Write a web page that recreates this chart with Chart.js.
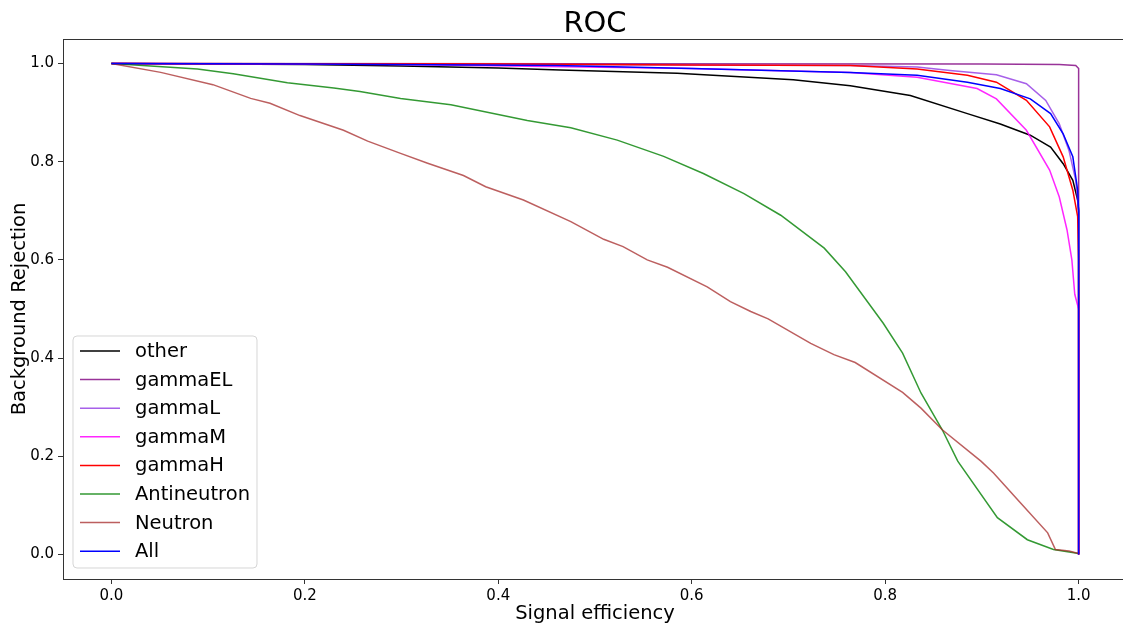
<!DOCTYPE html>
<html lang="en">
<head>
  <meta charset="UTF-8">
  <title>ROC</title>
  <script src="https://cdn.jsdelivr.net/npm/chart.js"></script>
  <style>
    html, body { margin: 0; padding: 0; background: #fff; overflow: hidden; }
    /* the original figure is cropped just before its right spine */
    #wrap { width: 1123px; height: 626px; overflow: hidden; }
  </style>
</head>
<body>
  <div id="wrap"><canvas id="roc" width="1128" height="626"></canvas></div>
  <script>
    // [signal efficiency, background rejection]
    const other = [[0, 1], [0.1, 0.999], [0.2, 0.998], [0.3, 0.995], [0.4, 0.991], [0.464, 0.987], [0.585, 0.98],
      [0.705, 0.967], [0.764, 0.955], [0.826, 0.935], [0.885, 0.898], [0.919, 0.877], [0.95, 0.854],
      [0.971, 0.83], [0.984, 0.796], [0.994, 0.762], [0.999, 0.722], [1, 0.7], [1, 0]];
    const gammaEL = [[0, 1], [0.5, 0.9995], [0.9, 0.999], [0.98, 0.998], [0.997, 0.996], [1, 0.99], [1, 0]];
    const gammaL = [[0, 1], [0.3, 0.999], [0.6, 0.997], [0.764, 0.996], [0.833, 0.993], [0.867, 0.986],
      [0.915, 0.977], [0.946, 0.959], [0.966, 0.925], [0.98, 0.877], [0.99, 0.823], [0.997, 0.762], [1, 0.7], [1, 0]];
    const gammaM = [[0, 1], [0.3, 0.998], [0.6, 0.99], [0.764, 0.982], [0.833, 0.972], [0.895, 0.949],
      [0.915, 0.928], [0.946, 0.864], [0.97, 0.783], [0.98, 0.728], [0.988, 0.661], [0.993, 0.6],
      [0.996, 0.53], [1, 0.5], [1, 0]];
    const gammaH = [[0, 1], [0.4, 0.999], [0.6, 0.997], [0.764, 0.996], [0.833, 0.989], [0.885, 0.976],
      [0.915, 0.962], [0.946, 0.925], [0.97, 0.871], [0.984, 0.81], [0.994, 0.742], [0.999, 0.688], [1, 0.6], [1, 0]];
    const antineutron = [[0, 1], [0.089, 0.989], [0.126, 0.979], [0.182, 0.961], [0.23, 0.95], [0.257, 0.943],
      [0.299, 0.929], [0.351, 0.916], [0.43, 0.884], [0.475, 0.869], [0.523, 0.844], [0.571, 0.811],
      [0.612, 0.776], [0.654, 0.735], [0.692, 0.691], [0.737, 0.624], [0.759, 0.576], [0.798, 0.471],
      [0.818, 0.41], [0.837, 0.329], [0.859, 0.254], [0.875, 0.19], [0.916, 0.075], [0.947, 0.03],
      [0.974, 0.01], [1, 0.002]];
    const neutron = [[0, 1], [0.051, 0.982], [0.105, 0.957], [0.144, 0.929], [0.164, 0.919], [0.195, 0.894],
      [0.24, 0.864], [0.265, 0.842], [0.299, 0.817], [0.327, 0.797], [0.364, 0.772], [0.387, 0.749],
      [0.426, 0.722], [0.475, 0.678], [0.509, 0.642], [0.529, 0.627], [0.554, 0.6], [0.575, 0.585],
      [0.616, 0.545], [0.64, 0.515], [0.661, 0.495], [0.679, 0.48], [0.723, 0.43], [0.747, 0.407],
      [0.769, 0.391], [0.818, 0.33], [0.837, 0.298], [0.859, 0.254], [0.899, 0.19], [0.912, 0.166],
      [0.94, 0.105], [0.968, 0.044], [0.976, 0.01], [0.99, 0.007], [1, 0.002]];
    const all = [[0, 1], [0.2, 0.999], [0.46, 0.996], [0.6, 0.99], [0.764, 0.982], [0.833, 0.976],
      [0.885, 0.962], [0.919, 0.949], [0.95, 0.928], [0.971, 0.898], [0.984, 0.857], [0.994, 0.81],
      [0.999, 0.742], [1, 0.7], [1, 0]];

    const seriesNames = ['other', 'gammaEL', 'gammaL', 'gammaM', 'gammaH', 'Antineutron', 'Neutron', 'All'];
    const seriesData = [other, gammaEL, gammaL, gammaM, gammaH, antineutron, neutron, all];
    const seriesColors = ['#000000', 'rgba(128,0,128,0.8)', 'rgba(138,43,226,0.75)', 'rgba(255,0,255,0.85)',
      '#ff0000', 'rgba(0,128,0,0.8)', 'rgba(165,42,42,0.75)', '#0000ff'];
    const tickValues = [0, 0.2, 0.4, 0.6, 0.8, 1.0];

    const font = "'DejaVu Sans', sans-serif";

    // title centred over the axes, legend box in the lower left, frame on top
    const rocDecor = {
      id: 'rocDecor',
      afterDatasetsDraw(chart) {
        const ctx = chart.ctx;
        const area = chart.chartArea;
        const x0 = area.left + 10, y0 = area.bottom - 243, w = 184, h = 232;
        ctx.save();
        ctx.beginPath();
        ctx.roundRect(x0, y0, w, h, 4);
        ctx.fillStyle = 'rgba(255,255,255,0.8)';
        ctx.fill();
        ctx.strokeStyle = 'rgba(204,204,204,0.8)';
        ctx.lineWidth = 1;
        ctx.stroke();
        ctx.font = '19.5px ' + font;
        ctx.textBaseline = 'middle';
        chart.data.datasets.forEach((ds, i) => {
          const y = y0 + 15 + i * 28.6;
          ctx.beginPath();
          ctx.moveTo(x0 + 7, y);
          ctx.lineTo(x0 + 47, y);
          ctx.strokeStyle = ds.borderColor;
          ctx.lineWidth = 1.5;
          ctx.stroke();
          ctx.fillStyle = '#000';
          ctx.fillText(ds.label, x0 + 62, y + 1);
        });
        ctx.restore();
      },
      afterDraw(chart) {
        const a = chart.chartArea;
        const ctx = chart.ctx;
        ctx.save();
        ctx.strokeStyle = '#333';
        ctx.lineWidth = 1;
        ctx.strokeRect(a.left + 0.5, a.top + 0.5, a.right - a.left - 1, a.bottom - a.top);
        ctx.fillStyle = '#000';
        ctx.font = '29px ' + font;
        ctx.textAlign = 'center';
        ctx.textBaseline = 'alphabetic';
        ctx.fillText('ROC', (a.left + a.right) / 2, 32);
        ctx.restore();
      }
    };

    new Chart(document.getElementById('roc'), {
      type: 'scatter',
      data: {
        datasets: seriesNames.map((name, i) => ({
          label: name,
          data: seriesData[i].map(p => ({ x: p[0], y: p[1] })),
          borderColor: seriesColors[i],
          backgroundColor: seriesColors[i],
          showLine: true,
          borderWidth: 1.5,
          pointRadius: 0,
          tension: 0,
          order: seriesNames.length - i
        }))
      },
      options: {
        responsive: false,
        animation: false,
        layout: { padding: { top: 39, right: 1, left: 0, bottom: 0 } },
        plugins: {
          legend: { display: false },
          tooltip: { enabled: false },
          title: { display: false }
        },
        scales: {
          x: {
            type: 'linear',
            min: -0.05,
            max: 1.05,
            afterBuildTicks: axis => { axis.ticks = tickValues.map(v => ({ value: v })); },
            afterFit: axis => { axis.height = 47; },
            grid: { drawOnChartArea: false, drawTicks: true, tickLength: 5, tickColor: '#333' },
            border: { color: '#333' },
            ticks: {
              color: '#000',
              font: { family: font, size: 15 },
              padding: 3,
              maxRotation: 0,
              callback: v => v.toFixed(1)
            },
            title: {
              display: true,
              text: 'Signal efficiency',
              color: '#000',
              font: { family: font, size: 19.5 },
              padding: { top: 0, bottom: 0 }
            }
          },
          y: {
            type: 'linear',
            min: -0.05,
            max: 1.05,
            afterBuildTicks: axis => { axis.ticks = tickValues.map(v => ({ value: v })); },
            afterFit: axis => { axis.width = 63; },
            grid: { drawOnChartArea: false, drawTicks: true, tickLength: 5, tickColor: '#333' },
            border: { color: '#333' },
            ticks: {
              color: '#000',
              font: { family: font, size: 15 },
              padding: 4,
              callback: v => v.toFixed(1)
            },
            title: {
              display: true,
              text: 'Background Rejection',
              color: '#000',
              font: { family: font, size: 19.5 },
              padding: { top: 8, bottom: 0 }
            }
          }
        }
      },
      plugins: [rocDecor]
    });
  </script>
</body>
</html>
